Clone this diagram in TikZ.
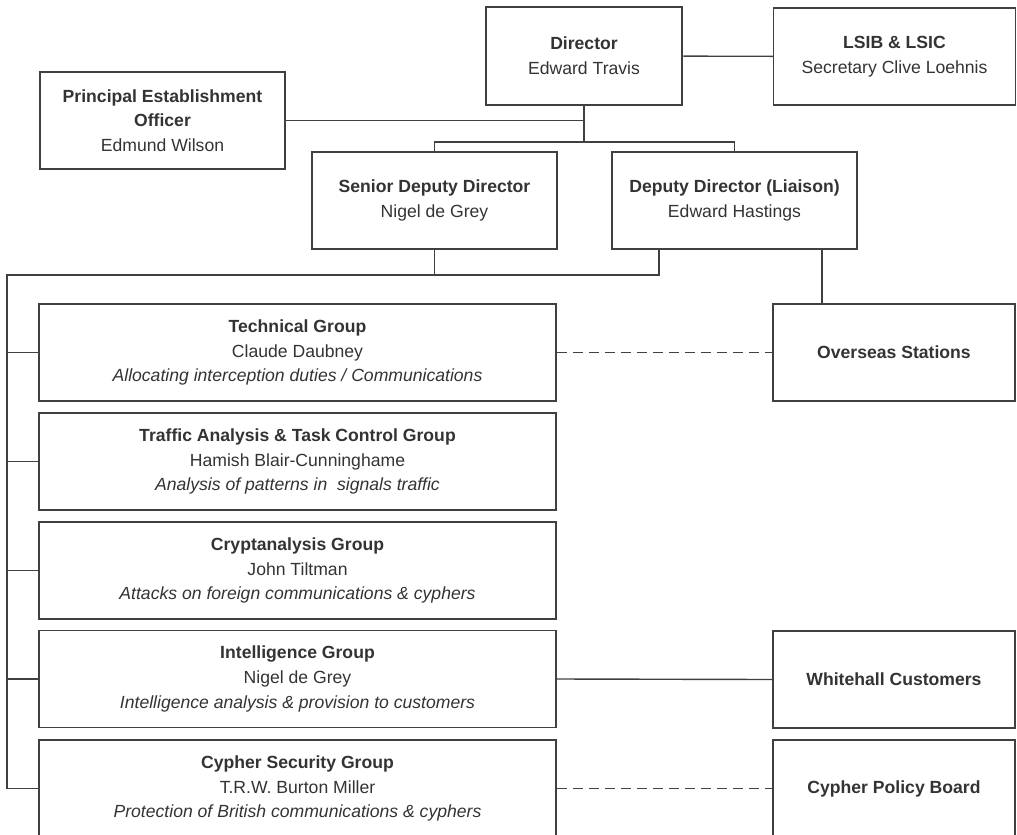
\documentclass[tikz,border=0pt]{standalone}
\usepackage{fontspec}
\setmainfont{Liberation Sans}

\definecolor{inkgray}{HTML}{333333}
\definecolor{rulegray}{HTML}{404040}

\tikzset{
  orgbox/.style={draw=rulegray, line width=1.4pt, rectangle, inner sep=0pt,
    minimum width=245pt, minimum height=97pt, align=center, text=inkgray,
    font=\fontsize{17.6}{24.6}\selectfont},
  groupbox/.style={orgbox, minimum width=517pt},
  sidebox/.style={orgbox, minimum width=242pt},
  link/.style={draw=rulegray, line width=1.4pt},
  loose/.style={link, dash pattern=on 10pt off 6pt}
}

\begin{document}
\begin{tikzpicture}[x=1pt,y=-1pt]
  \useasboundingbox (0,0) rectangle (1017,835);
  \clip (0,0) rectangle (1017,835);
  % top level
  \node[orgbox, minimum width=196pt, minimum height=98pt, line width=2.8pt] (director) at (584,56) {\textbf{Director}\\Edward Travis};
  \node[sidebox] (lsib) at (894.5,56.5) {\textbf{LSIB \& LSIC}\\Secretary Clive Loehnis};
  \node[orgbox] (peo) at (162.5,120.5) {\textbf{Principal Establishment}\\\textbf{Officer}\\Edmund Wilson};
  \node[orgbox] (senior) at (434.5,200.5) {\textbf{Senior Deputy Director}\\Nigel de Grey};
  \node[orgbox] (liaison) at (734.5,200.5) {\textbf{Deputy Director (Liaison)}\\Edward Hastings};
  % groups
  \node[groupbox] (technical) at (297.5,352.5) {\textbf{Technical Group}\\Claude Daubney\\\textit{Allocating interception duties / Communications}};
  \node[groupbox] (traffic) at (297.5,461.5) {\textbf{Traffic Analysis \& Task Control Group}\\Hamish Blair-Cunninghame\\\textit{Analysis of patterns in\ \ signals traffic}};
  \node[groupbox] (crypt) at (297.5,570.5) {\textbf{Cryptanalysis Group}\\John Tiltman\\\textit{Attacks on foreign communications \& cyphers}};
  \node[groupbox] (intel) at (297.5,679) {\textbf{Intelligence Group}\\Nigel de Grey\\\textit{Intelligence analysis \& provision to customers}};
  \node[groupbox] (cyphersec) at (297.5,788.5) {\textbf{Cypher Security Group}\\T.R.W. Burton Miller\\\textit{Protection of British communications \& cyphers}};
  % outside bodies
  \node[sidebox] (overseas) at (894,352.5) {\textbf{Overseas Stations}};
  \node[sidebox] (whitehall) at (894,679.5) {\textbf{Whitehall Customers}};
  \node[sidebox] (policy) at (894,788.5) {\textbf{Cypher Policy Board}};

  \coordinate (split) at (584,142);
  \coordinate (bus) at (7,275);
  \coordinate (liaisonleg) at (659,249);
  \coordinate (overseasleg) at (822,249);

  \draw[link] (director) -- (lsib);
  \draw[link] (director.south) -- (split);
  \draw[link] (peo.east) -- (peo.east -| split);
  \draw[link] (senior.north) |- (split) -| (liaison.north);
  \draw[link] (senior.south) -- (senior.south |- bus);
  \draw[link] (liaisonleg) |- (bus) -- (bus |- cyphersec);
  \foreach \g in {technical,traffic,crypt,intel,cyphersec}
    \draw[link] (bus |- \g.west) -- (\g.west);
  \draw[link] (overseasleg) -- (overseasleg |- overseas.north);
  % \draw[link] (liaison.east) -- (overseas.north);
  \draw[loose] (technical.east) -- (overseas.west);
  \draw[link] (intel.east) -- (whitehall.west);
  \draw[loose] (cyphersec.east) -- (policy.west);
\end{tikzpicture}
\end{document}
